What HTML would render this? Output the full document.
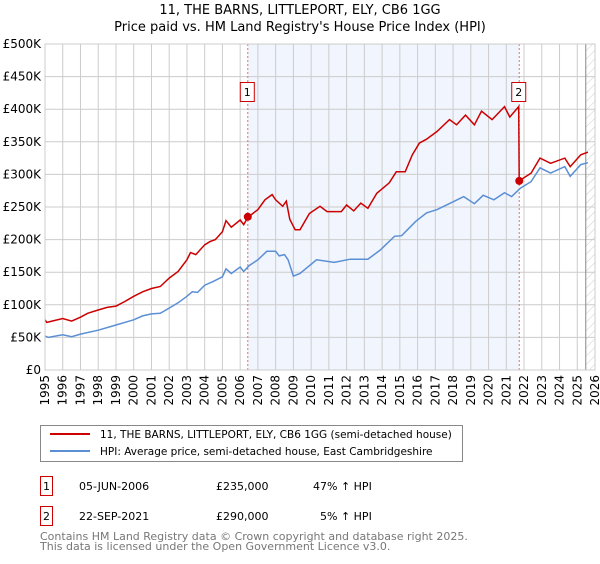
<!DOCTYPE html>
<html><head><meta charset="utf-8"><style>
body{margin:0;background:#fff;font-family:"DejaVu Sans","Liberation Sans",sans-serif;}
svg text{font-family:"DejaVu Sans","Liberation Sans",sans-serif;}
</style></head><body>
<svg id="chart" width="600" height="560" xmlns="http://www.w3.org/2000/svg">
<defs><pattern id="hatch" width="6" height="6" patternUnits="userSpaceOnUse" patternTransform="rotate(45)"><line x1="0" y1="0" x2="0" y2="6" stroke="#ccc" stroke-width="1"/></pattern></defs>
<text x="300" y="14" text-anchor="middle" font-size="13">11, THE BARNS, LITTLEPORT, ELY, CB6 1GG</text>
<text x="300" y="31" text-anchor="middle" font-size="13">Price paid vs. HM Land Registry's House Price Index (HPI)</text>
<g id="plot"></g>
<g>
<rect x="40.5" y="425.5" width="422" height="36" fill="#fff" stroke="#888"/>
<line x1="50" y1="434" x2="90" y2="434" stroke="#cc0000" stroke-width="2"/>
<text x="100" y="438" font-size="10.5">11, THE BARNS, LITTLEPORT, ELY, CB6 1GG (semi-detached house)</text>
<line x1="50" y1="451" x2="90" y2="451" stroke="#5b8fd4" stroke-width="2"/>
<text x="100" y="455" font-size="10.5">HPI: Average price, semi-detached house, East Cambridgeshire</text>
</g>
<g font-size="11">
<rect x="40.5" y="476.5" width="12" height="19" fill="#fff" stroke="#cc0000"/>
<text x="46.5" y="490" text-anchor="middle">1</text>
<text x="79" y="490">05-JUN-2006</text>
<text x="216" y="490">£235,000</text>
<text x="313" y="490">47% ↑ HPI</text>
<rect x="40.5" y="506.5" width="12" height="19" fill="#fff" stroke="#cc0000"/>
<text x="46.5" y="520" text-anchor="middle">2</text>
<text x="79" y="520">22-SEP-2021</text>
<text x="216" y="520">£290,000</text>
<text x="320" y="520">5% ↑ HPI</text>
</g>
<text x="40" y="540" font-size="11" fill="#777">Contains HM Land Registry data © Crown copyright and database right 2025.</text>
<text x="40" y="550" font-size="11" fill="#777">This data is licensed under the Open Government Licence v3.0.</text>
</svg>
<script>
const hpiYears=[1995,1995.2,1996,1996.5,1997,1998,1999,2000,2000.5,2001,2001.5,2002,2002.5,2003,2003.3,2003.6,2004,2004.5,2005,2005.2,2005.5,2006,2006.2,2006.5,2007,2007.5,2008,2008.2,2008.5,2008.7,2009,2009.37,2010.3,2011.3,2012.2,2013.2,2013.9,2014.7,2015.1,2015.9,2016.5,2017.1,2018.0,2018.6,2019.2,2019.7,2020.3,2020.9,2021.3,2021.8,2022.4,2022.9,2023.5,2024.3,2024.6,2025.2,2025.6];
const hpiValues=[52,50,54,51,55,61,69,77,83,86,87,95,103,113,120,119,130,136,143,155,148,158,151,160,169,182,182,175,177,169,144,148,169,165,170,170,184,205,206,228,241,246,258,266,255,268,261,272,266,279,289,310,302,312,297,315,318];
const priceYears=[1995,1995.1,1996,1996.5,1997,1997.4,1998,1998.5,1999,1999.5,2000,2000.5,2001,2001.5,2002,2002.5,2003,2003.2,2003.5,2004,2004.3,2004.6,2005,2005.2,2005.5,2006,2006.2,2006.43,2007,2007.4,2007.8,2008,2008.4,2008.6,2008.8,2009.1,2009.37,2009.9,2010.5,2010.9,2011.7,2012,2012.4,2012.8,2013.2,2013.7,2014.4,2014.8,2015.3,2015.7,2016.1,2016.5,2017.1,2017.8,2018.2,2018.7,2019.2,2019.6,2020.2,2020.9,2021.2,2021.7,2021.73,2022.4,2022.9,2023.5,2024.3,2024.6,2025.2,2025.6];
const priceValues=[77,73,79,75,81,87,92,96,98,105,113,120,125,128,141,151,169,180,177,192,197,200,212,229,219,230,223,234,246,261,269,261,251,259,231,215,215,240,251,243,243,253,244,256,248,271,287,304,304,330,348,354,366,384,376,391,376,397,384,404,388,404,290,302,325,317,325,312,330,334];
const saleYears=[2006.43,2021.73];
const saleValues=[235,290];
const saleLabels=["1","2"];
const yTicks=[0,50,100,150,200,250,300,350,400,450,500];
const yTickLabels=["£0","£50K","£100K","£150K","£200K","£250K","£300K","£350K","£400K","£450K","£500K"];
const xTicks=[1995,1996,1997,1998,1999,2000,2001,2002,2003,2004,2005,2006,2007,2008,2009,2010,2011,2012,2013,2014,2015,2016,2017,2018,2019,2020,2021,2022,2023,2024,2025,2026];

const L=45,R=595,T=44,B=370,X0=1995,X1=2026,Y1=500;
const sx=y=>L+(y-X0)/(X1-X0)*(R-L);
const sy=v=>B-v/Y1*(B-T);
const NS="http://www.w3.org/2000/svg";
const g=document.getElementById('plot');
function mk(tag,attrs,parent){const e=document.createElementNS(NS,tag);for(const k in attrs)e.setAttribute(k,attrs[k]);(parent||g).appendChild(e);return e;}
let sh=mk('rect',{x:sx(saleYears[0]),y:T,width:sx(saleYears[1])-sx(saleYears[0]),height:B-T,fill:'#eef3fc',opacity:0.8});


let ht=mk('rect',{x:sx(2025.48),y:T,width:R-sx(2025.48),height:B-T,fill:'url(#hatch)'});


yTicks.forEach((v,i)=>{
  let l=mk('line',{x1:L,x2:R,y1:sy(v),y2:sy(v),stroke:'#ccc','stroke-width':1});
  
  
  let t=mk('text',{x:L-4,y:sy(v)+4,'text-anchor':'end','font-size':12});
  
  
  t.textContent=yTickLabels[i];
});
xTicks.forEach(y=>{
  let l=mk('line',{x1:sx(y),x2:sx(y),y1:T,y2:B,stroke:'#ccc','stroke-width':1});
  
  
  let t=mk('text',{x:0,y:0,'text-anchor':'end','font-size':12,transform:`translate(${sx(y)+4},375) rotate(-90)`});
  
  
  t.textContent=y;
});
let vl=mk('line',{x1:sx(2025.48),x2:sx(2025.48),y1:T,y2:B,stroke:'#888','stroke-width':1});


saleYears.forEach((y,i)=>{
  let l=mk('line',{x1:sx(y),x2:sx(y),y1:T,y2:B,stroke:'#e07070','stroke-width':1,'stroke-dasharray':'2,2'});
  
  
});
function path(xs,vs){return xs.map((x,i)=>(i?'L':'M')+sx(x).toFixed(1)+','+sy(vs[i]).toFixed(1)).join('');}
let hp=mk('path',{d:path(hpiYears,hpiValues),fill:'none',stroke:'#5b8fd4','stroke-width':1.5});


let pp=mk('path',{d:path(priceYears,priceValues),fill:'none',stroke:'#cc0000','stroke-width':1.5});


saleYears.forEach((y,i)=>{
  let c=mk('circle',{cx:sx(y),cy:sy(saleValues[i]),r:4,fill:'#cc0000'});
  
  
  let bx=mk('rect',{x:sx(y)-7.5,y:82.5,width:14,height:19,fill:'#fff',stroke:'#cc0000'});
  
  
  let t=mk('text',{x:sx(y)-0.5,y:96,'text-anchor':'middle','font-size':11});
  
  
  t.textContent=saleLabels[i];
});
let ax=mk('rect',{x:L,y:T,width:R-L,height:B-T,fill:'none',stroke:'#ccc'});


</script>
</body></html>
